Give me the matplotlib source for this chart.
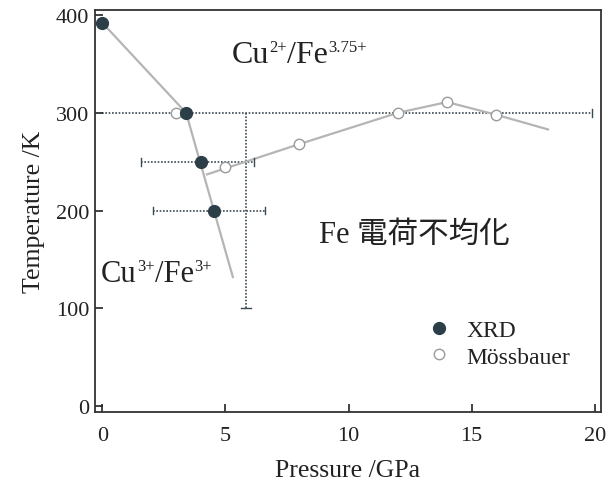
import matplotlib
matplotlib.use("Agg")
import matplotlib.pyplot as plt

plt.rcParams['font.family'] = ['Liberation Serif', 'Noto Sans CJK JP']

# XRD points
xrd_p = [0.0, 3.4, 4.0, 4.55]
xrd_t = [392, 300, 250, 200]
xrd_xerr_lo = [None, None, 1.55, 2.05]
xrd_xerr_hi = [None, None, 6.15, 6.6]

# Mossbauer points
moss_p = [3.0, 5.0, 8.0, 12.0, 14.0, 16.0]
moss_t = [300, 245, 268, 300, 311, 298]

# guide lines (phase boundaries)
line1_p = [0.0, 3.4, 5.3]
line1_t = [392, 300, 132]
line2_p = [4.25, 8.0, 12.0, 14.0, 16.0, 18.1]
line2_t = [237, 268, 300, 311, 298, 283]

# dotted crosshair
hline_p = [0.0, 19.9]
hline_t = 300
vline_p = 5.85
vline_t = [300, 100]

xticks = [0, 5, 10, 15, 20]
yticks = [0, 100, 200, 300, 400]

txtc = '#222222'

fig = plt.figure(figsize=(6.07, 4.85), dpi=100)
ax = fig.add_axes([0.1565, 0.1485, 0.8335, 0.8285])

gray = '#b5b5b5'
dotc = '#3a4a55'
ax.plot(line1_p, line1_t, color=gray, lw=1.6, zorder=2)
ax.plot(line2_p, line2_t, color=gray, lw=1.6, zorder=2)

# dotted horizontal line at 300 K with cap at right
ax.plot(hline_p, [hline_t, hline_t], color=dotc, lw=1.2, ls=(0, (1, 1)), zorder=1)
ax.plot([hline_p[1], hline_p[1]], [hline_t - 4, hline_t + 4], color=dotc, lw=1.0)
# dotted vertical line
ax.plot([vline_p, vline_p], vline_t, color=dotc, lw=1.2, ls=(0, (1, 1)), zorder=1)
ax.plot([vline_p - 0.2, vline_p + 0.2], [vline_t[1], vline_t[1]], color=dotc, lw=1.0)

# XRD horizontal error bars
for p, t, lo, hi in zip(xrd_p, xrd_t, xrd_xerr_lo, xrd_xerr_hi):
    if lo is None:
        continue
    ax.plot([lo, hi], [t, t], color=dotc, lw=1.2, ls=(0, (1, 1)), zorder=1)
    for e in (lo, hi):
        ax.plot([e, e], [t - 4, t + 4], color=dotc, lw=1.0)

ax.plot(moss_p, moss_t, 'o', ms=7.5, mfc='white', mec='#9a9a9a', mew=1.0, ls='none',
        zorder=3, label='Mössbauer')
ax.plot(xrd_p, xrd_t, 'o', ms=8.5, mfc='#2c3e48', mec='#2c3e48', ls='none',
        zorder=4, label='XRD')

ax.set_xlim(-0.3, 20.25)
ax.set_ylim(-6, 405)
ax.set_xticks(xticks)
ax.set_yticks(yticks)
ax.tick_params(direction='in', length=6, width=1.2, labelsize=16, colors=txtc)
ax.tick_params(axis='x', pad=10)
ax.tick_params(axis='y', pad=4)
for s in ax.spines.values():
    s.set_linewidth(1.3)
    s.set_color('#333333')

ax.set_xlabel('Pressure /GPa', fontsize=18.5, labelpad=10, color=txtc)
ax.set_ylabel('Temperature /K', fontsize=18.5, labelpad=8, color=txtc)


def rich(x, y, pieces, size, supsize):
    """pieces: list of (text, is_sup). x,y data coords of baseline-left."""
    base = ax.annotate(pieces[0][0], (x, y), xycoords='data', fontsize=size,
                       ha='left', va='baseline', color=txtc)
    prev = base
    for txt, sup in pieces[1:]:
        if sup:
            a = ax.annotate(txt, (1, 1), xycoords=(prev, base), xytext=(0.3, 1.0),
                            textcoords='offset points', fontsize=supsize,
                            ha='left', va='top', color=txtc)
        else:
            a = ax.annotate(txt, (1, 0), xycoords=(prev, base), fontsize=size,
                            ha='left', va='bottom', color=txtc)
        prev = a


rich(5.25, 352, [('Cu', False), ('2+', True), ('/Fe', False), ('3.75+', True)], 23, 12)
rich(-0.05, 128, [('Cu', False), ('3+', True), ('/Fe', False), ('3+', True)], 22, 12)
ax.text(8.8, 168, 'Fe 電荷不均化', fontsize=22, va='baseline', ha='left', color=txtc)

h, l = ax.get_legend_handles_labels()
ax.legend([h[1], h[0]], [l[1], l[0]], loc='center left', bbox_to_anchor=(0.61, 0.17),
          frameon=False, fontsize=17, handletextpad=0.55, labelspacing=0.2,
          handlelength=1.2, labelcolor=txtc)

fig.savefig('out.png', dpi=100)
